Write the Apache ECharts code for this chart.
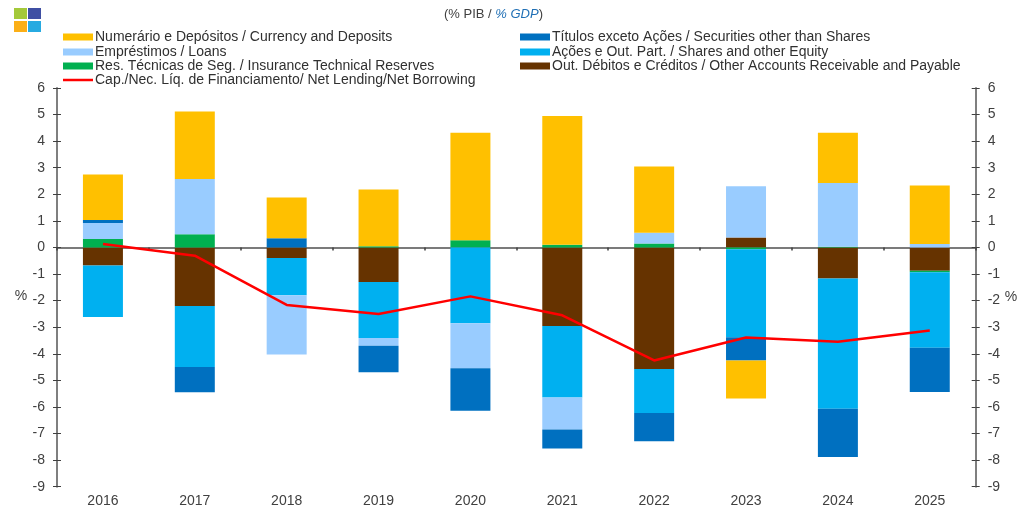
<!DOCTYPE html>
<html><head><meta charset="utf-8">
<style>html,body{margin:0;padding:0;background:#fff}#c{width:1019px;height:506px}</style>
<script src="https://cdn.jsdelivr.net/npm/echarts@6/dist/echarts.min.js"></script>
</head><body><div id="c"></div>
<script>
const categories = ['2016','2017','2018','2019','2020','2021','2022','2023','2024','2025'];
const otherAccounts = [-0.68,-2.2,-0.4,-1.3,0,-2.95,-4.57,0.38,-1.17,-0.88];
const insurance = [0.32,0.5,0,0.05,0.27,0.1,0.15,-0.07,0.03,-0.05];
const equity = [-1.94,-2.3,-1.4,-2.11,-2.85,-2.69,-1.66,-3.31,-4.9,-2.84];
const loans = [0.6,2.08,-2.23,-0.29,-1.69,-1.21,0.4,1.92,2.4,0.13];
const securities = [0.11,-0.95,0.35,-0.99,-1.6,-0.71,-1.06,-0.87,-1.81,-1.67];
const currency = [1.72,2.54,1.53,2.13,4.05,4.85,2.5,-1.43,1.89,2.2];
const netLending = [0.13,-0.31,-2.16,-2.5,-1.84,-2.55,-4.25,-3.39,-3.55,-3.12];

const names = {
  currency:'Numerário e Depósitos / Currency and Deposits',
  loans:'Empréstimos / Loans',
  insurance:'Res. Técnicas de Seg. / Insurance Technical Reserves',
  net:'Cap./Nec. Líq. de Financiamento/ Net Lending/Net Borrowing',
  securities:'Títulos exceto Ações / Securities other than Shares',
  equity:'Ações e Out. Part. / Shares and other Equity',
  other:'Out. Débitos e Créditos / Other Accounts Receivable and Payable'
};
const FONT = '"Liberation Sans", Arial, sans-serif';
const TXT = '#404040';

const bar = (name,data,color)=>({name,type:'bar',stack:'t',data,barWidth:40,itemStyle:{color},emphasis:{disabled:true}});
const legendRows = [
  [names.currency,63,30],[names.loans,63,45],[names.insurance,63,59],[names.net,63,73],
  [names.securities,520,30],[names.equity,520,45],[names.other,520,59]
];
const yAxis = (position,inside)=>({
  type:'value',position,min:-9,max:6,interval:1,splitLine:{show:false},
  axisLine:{show:!inside,lineStyle:{color:'#7f7f7f',width:2}},
  axisTick:{show:true,inside,length:4,lineStyle:{color:'#404040',width:1}},
  axisLabel:{show:!inside,margin:12,color:TXT,fontSize:14,fontFamily:FONT}
});

const option = {
  animation:false,
  title:{
    left:439,top:3,
    text:'{a|(% PIB / }{b|% GDP}{a|)}',
    textStyle:{fontWeight:'normal',rich:{
      a:{fontSize:13,color:'#404040',fontFamily:FONT},
      b:{fontSize:13,color:'#1F6FB5',fontStyle:'italic',fontFamily:FONT}
    }}
  },
  legend:legendRows.map(r=>({
    data:[{name:r[0],icon:'rect'}],left:r[1],top:r[2],padding:0,itemWidth:30,
    itemHeight:r[0]===names.net?2.5:7,
    selectedMode:false,
    textStyle:{color:'#303030',fontSize:14,fontFamily:FONT,padding:[0,0,0,-3]}
  })),
  grid:{left:57,right:43.3,top:88,bottom:19.3,outerBoundsMode:'none'},
  xAxis:[
    {type:'category',data:categories,axisLine:{onZero:true,lineStyle:{color:'#505050',width:1.5}},
     axisTick:{show:true,length:3,alignWithLabel:false,lineStyle:{color:'#404040',width:1.5}},axisLabel:{show:false}},
    {type:'category',data:categories,position:'bottom',axisLine:{show:false,onZero:false},axisTick:{show:false},
     axisLabel:{color:TXT,fontSize:14,fontFamily:FONT,margin:7}}
  ],
  yAxis:[yAxis('left',false),yAxis('left',true),yAxis('right',false),yAxis('right',true)],
  series:[
    bar(names.other,otherAccounts,'#663300'),
    bar(names.insurance,insurance,'#00B050'),
    bar(names.equity,equity,'#00B0F0'),
    bar(names.loans,loans,'#99CCFF'),
    bar(names.securities,securities,'#0070C0'),
    bar(names.currency,currency,'#FFC000'),
    {name:names.net,type:'line',data:netLending,showSymbol:false,symbol:'none',z:5,
     lineStyle:{color:'#FF0000',width:2.5},itemStyle:{color:'#FF0000'},emphasis:{disabled:true}}
  ],
  graphic:[
    {type:'rect',shape:{x:14,y:8,width:13,height:11},style:{fill:'#A4C93A'}},
    {type:'rect',shape:{x:28,y:8,width:13,height:11},style:{fill:'#3F4FA3'}},
    {type:'rect',shape:{x:14,y:21,width:13,height:11},style:{fill:'#FBAF17'}},
    {type:'rect',shape:{x:28,y:21,width:13,height:11},style:{fill:'#27AAE1'}},
    {type:'text',x:21,y:296,style:{text:'%',fill:TXT,font:'14px '+FONT,textAlign:'center',textVerticalAlign:'middle'}},
    {type:'text',x:1011,y:297,style:{text:'%',fill:TXT,font:'14px '+FONT,textAlign:'center',textVerticalAlign:'middle'}}
  ]
};
const chart = echarts.init(document.getElementById('c'),null,{renderer:'canvas'});
chart.setOption(option);
</script></body></html>
